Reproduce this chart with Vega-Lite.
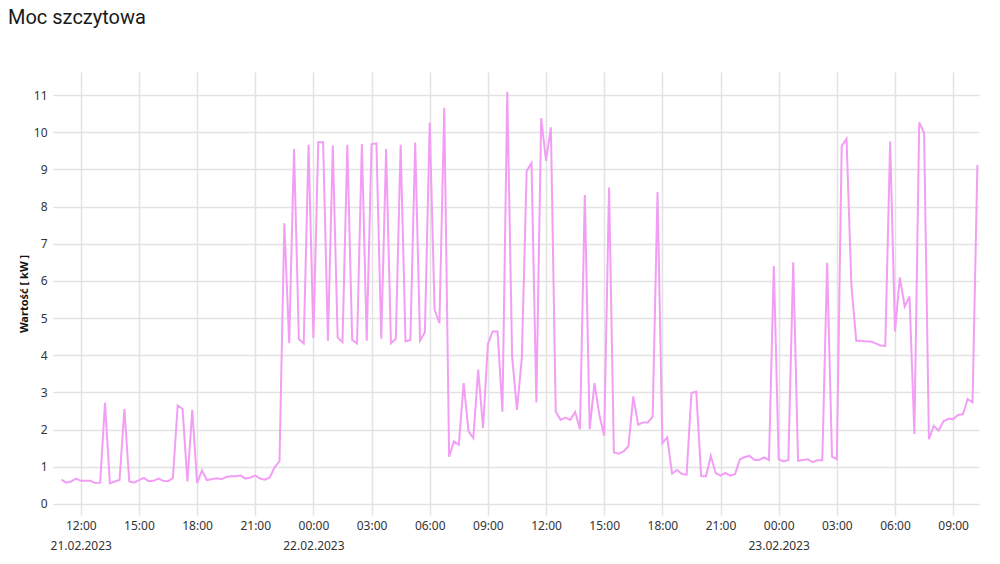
{
  "$schema": "https://vega.github.io/schema/vega-lite/v6.json",
  "autosize": {"type": "fit", "contains": "padding"},
  "width": 1000,
  "height": 564,
  "padding": {"left": 8, "top": 8, "right": 18, "bottom": 9},
  "background": "white",
  "title": {"text": "Moc szczytowa", "anchor": "start", "frame": "group", "dx": -45, "offset": 44, "fontSize": 20, "font": "Roboto", "fontWeight": "normal", "color": "#1a1a1a"},
  "config": {"view": {"stroke": null}},
  "data": {"values": [
    {"t":"2023-02-21T11:00","v":0.65},{"t":"2023-02-21T11:15","v":0.57},{"t":"2023-02-21T11:30","v":0.60},{"t":"2023-02-21T11:45","v":0.68},
    {"t":"2023-02-21T12:00","v":0.62},{"t":"2023-02-21T12:15","v":0.62},{"t":"2023-02-21T12:30","v":0.62},{"t":"2023-02-21T12:45","v":0.56},
    {"t":"2023-02-21T13:00","v":0.57},{"t":"2023-02-21T13:15","v":2.72},{"t":"2023-02-21T13:30","v":0.55},{"t":"2023-02-21T13:45","v":0.60},
    {"t":"2023-02-21T14:00","v":0.64},{"t":"2023-02-21T14:15","v":2.55},{"t":"2023-02-21T14:30","v":0.60},{"t":"2023-02-21T14:45","v":0.57},
    {"t":"2023-02-21T15:00","v":0.64},{"t":"2023-02-21T15:15","v":0.70},{"t":"2023-02-21T15:30","v":0.61},{"t":"2023-02-21T15:45","v":0.62},
    {"t":"2023-02-21T16:00","v":0.68},{"t":"2023-02-21T16:15","v":0.62},{"t":"2023-02-21T16:30","v":0.61},{"t":"2023-02-21T16:45","v":0.69},
    {"t":"2023-02-21T17:00","v":2.65},{"t":"2023-02-21T17:15","v":2.55},{"t":"2023-02-21T17:30","v":0.60},{"t":"2023-02-21T17:45","v":2.53},
    {"t":"2023-02-21T18:00","v":0.56},{"t":"2023-02-21T18:15","v":0.90},{"t":"2023-02-21T18:30","v":0.64},{"t":"2023-02-21T18:45","v":0.66},
    {"t":"2023-02-21T19:00","v":0.69},{"t":"2023-02-21T19:15","v":0.66},{"t":"2023-02-21T19:30","v":0.72},{"t":"2023-02-21T19:45","v":0.74},
    {"t":"2023-02-21T20:00","v":0.74},{"t":"2023-02-21T20:15","v":0.76},{"t":"2023-02-21T20:30","v":0.68},{"t":"2023-02-21T20:45","v":0.71},
    {"t":"2023-02-21T21:00","v":0.76},{"t":"2023-02-21T21:15","v":0.68},{"t":"2023-02-21T21:30","v":0.65},{"t":"2023-02-21T21:45","v":0.71},
    {"t":"2023-02-21T22:00","v":0.99},{"t":"2023-02-21T22:15","v":1.14},{"t":"2023-02-21T22:30","v":7.55},{"t":"2023-02-21T22:45","v":4.32},
    {"t":"2023-02-21T23:00","v":9.55},{"t":"2023-02-21T23:15","v":4.43},{"t":"2023-02-21T23:30","v":4.32},{"t":"2023-02-21T23:45","v":9.66},
    {"t":"2023-02-22T00:00","v":4.46},{"t":"2023-02-22T00:15","v":9.73},{"t":"2023-02-22T00:30","v":9.73},{"t":"2023-02-22T00:45","v":4.39},
    {"t":"2023-02-22T01:00","v":9.64},{"t":"2023-02-22T01:15","v":4.48},{"t":"2023-02-22T01:30","v":4.35},{"t":"2023-02-22T01:45","v":9.66},
    {"t":"2023-02-22T02:00","v":4.41},{"t":"2023-02-22T02:15","v":4.32},{"t":"2023-02-22T02:30","v":9.68},{"t":"2023-02-22T02:45","v":4.39},
    {"t":"2023-02-22T03:00","v":9.68},{"t":"2023-02-22T03:15","v":9.70},{"t":"2023-02-22T03:30","v":4.44},{"t":"2023-02-22T03:45","v":9.55},
    {"t":"2023-02-22T04:00","v":4.32},{"t":"2023-02-22T04:15","v":4.44},{"t":"2023-02-22T04:30","v":9.66},{"t":"2023-02-22T04:45","v":4.37},
    {"t":"2023-02-22T05:00","v":4.41},{"t":"2023-02-22T05:15","v":9.72},{"t":"2023-02-22T05:30","v":4.39},{"t":"2023-02-22T05:45","v":4.62},
    {"t":"2023-02-22T06:00","v":10.26},{"t":"2023-02-22T06:15","v":5.22},{"t":"2023-02-22T06:30","v":4.86},{"t":"2023-02-22T06:45","v":10.66},
    {"t":"2023-02-22T07:00","v":1.27},{"t":"2023-02-22T07:15","v":1.68},{"t":"2023-02-22T07:30","v":1.59},{"t":"2023-02-22T07:45","v":3.25},
    {"t":"2023-02-22T08:00","v":1.95},{"t":"2023-02-22T08:15","v":1.77},{"t":"2023-02-22T08:30","v":3.61},{"t":"2023-02-22T08:45","v":2.04},
    {"t":"2023-02-22T09:00","v":4.30},{"t":"2023-02-22T09:15","v":4.64},{"t":"2023-02-22T09:30","v":4.64},{"t":"2023-02-22T09:45","v":2.48},
    {"t":"2023-02-22T10:00","v":11.09},{"t":"2023-02-22T10:15","v":3.96},{"t":"2023-02-22T10:30","v":2.53},{"t":"2023-02-22T10:45","v":3.92},
    {"t":"2023-02-22T11:00","v":8.96},{"t":"2023-02-22T11:15","v":9.17},{"t":"2023-02-22T11:30","v":2.73},{"t":"2023-02-22T11:45","v":10.38},
    {"t":"2023-02-22T12:00","v":9.23},{"t":"2023-02-22T12:15","v":10.13},{"t":"2023-02-22T12:30","v":2.48},{"t":"2023-02-22T12:45","v":2.26},
    {"t":"2023-02-22T13:00","v":2.32},{"t":"2023-02-22T13:15","v":2.26},{"t":"2023-02-22T13:30","v":2.47},{"t":"2023-02-22T13:45","v":2.01},
    {"t":"2023-02-22T14:00","v":8.31},{"t":"2023-02-22T14:15","v":2.01},{"t":"2023-02-22T14:30","v":3.25},{"t":"2023-02-22T14:45","v":2.39},
    {"t":"2023-02-22T15:00","v":1.83},{"t":"2023-02-22T15:15","v":8.51},{"t":"2023-02-22T15:30","v":1.38},{"t":"2023-02-22T15:45","v":1.35},
    {"t":"2023-02-22T16:00","v":1.41},{"t":"2023-02-22T16:15","v":1.55},{"t":"2023-02-22T16:30","v":2.89},{"t":"2023-02-22T16:45","v":2.13},
    {"t":"2023-02-22T17:00","v":2.19},{"t":"2023-02-22T17:15","v":2.19},{"t":"2023-02-22T17:30","v":2.35},{"t":"2023-02-22T17:45","v":8.39},
    {"t":"2023-02-22T18:00","v":1.63},{"t":"2023-02-22T18:15","v":1.79},{"t":"2023-02-22T18:30","v":0.81},{"t":"2023-02-22T18:45","v":0.91},
    {"t":"2023-02-22T19:00","v":0.81},{"t":"2023-02-22T19:15","v":0.78},{"t":"2023-02-22T19:30","v":2.98},{"t":"2023-02-22T19:45","v":3.02},
    {"t":"2023-02-22T20:00","v":0.75},{"t":"2023-02-22T20:15","v":0.74},{"t":"2023-02-22T20:30","v":1.29},{"t":"2023-02-22T20:45","v":0.83},
    {"t":"2023-02-22T21:00","v":0.76},{"t":"2023-02-22T21:15","v":0.83},{"t":"2023-02-22T21:30","v":0.76},{"t":"2023-02-22T21:45","v":0.80},
    {"t":"2023-02-22T22:00","v":1.20},{"t":"2023-02-22T22:15","v":1.26},{"t":"2023-02-22T22:30","v":1.29},{"t":"2023-02-22T22:45","v":1.18},
    {"t":"2023-02-22T23:00","v":1.18},{"t":"2023-02-22T23:15","v":1.25},{"t":"2023-02-22T23:30","v":1.18},{"t":"2023-02-22T23:45","v":6.40},
    {"t":"2023-02-23T00:00","v":1.20},{"t":"2023-02-23T00:15","v":1.14},{"t":"2023-02-23T00:30","v":1.18},{"t":"2023-02-23T00:45","v":6.50},
    {"t":"2023-02-23T01:00","v":1.16},{"t":"2023-02-23T01:15","v":1.18},{"t":"2023-02-23T01:30","v":1.20},{"t":"2023-02-23T01:45","v":1.12},
    {"t":"2023-02-23T02:00","v":1.17},{"t":"2023-02-23T02:15","v":1.17},{"t":"2023-02-23T02:30","v":6.49},{"t":"2023-02-23T02:45","v":1.27},
    {"t":"2023-02-23T03:00","v":1.20},{"t":"2023-02-23T03:15","v":9.63},{"t":"2023-02-23T03:30","v":9.82},{"t":"2023-02-23T03:45","v":5.89},
    {"t":"2023-02-23T04:00","v":4.39},{"t":"2023-02-23T04:15","v":4.39},{"t":"2023-02-23T04:30","v":4.37},{"t":"2023-02-23T04:45","v":4.37},
    {"t":"2023-02-23T05:00","v":4.32},{"t":"2023-02-23T05:15","v":4.26},{"t":"2023-02-23T05:30","v":4.25},{"t":"2023-02-23T05:45","v":9.75},
    {"t":"2023-02-23T06:00","v":4.64},{"t":"2023-02-23T06:15","v":6.09},{"t":"2023-02-23T06:30","v":5.31},{"t":"2023-02-23T06:45","v":5.58},
    {"t":"2023-02-23T07:00","v":1.88},{"t":"2023-02-23T07:15","v":10.26},{"t":"2023-02-23T07:30","v":9.99},{"t":"2023-02-23T07:45","v":1.74},
    {"t":"2023-02-23T08:00","v":2.10},{"t":"2023-02-23T08:15","v":1.97},{"t":"2023-02-23T08:30","v":2.22},{"t":"2023-02-23T08:45","v":2.29},
    {"t":"2023-02-23T09:00","v":2.28},{"t":"2023-02-23T09:15","v":2.39},{"t":"2023-02-23T09:30","v":2.41},{"t":"2023-02-23T09:45","v":2.82},
    {"t":"2023-02-23T10:00","v":2.73},{"t":"2023-02-23T10:15","v":9.12}
  ]},
  "mark": {"type": "line", "color": "#f29ef4", "strokeWidth": 2},
  "encoding": {
    "x": {
      "field": "t", "type": "temporal",
      "scale": {"domain": [{"year": 2023, "month": 2, "date": 21, "hours": 10, "minutes": 34}, {"year": 2023, "month": 2, "date": 23, "hours": 10, "minutes": 20}], "nice": false},
      "axis": {
        "title": null, "domain": false, "ticks": false,
        "values": [
          {"year": 2023, "month": 2, "date": 21, "hours": 12}, {"year": 2023, "month": 2, "date": 21, "hours": 15},
          {"year": 2023, "month": 2, "date": 21, "hours": 18}, {"year": 2023, "month": 2, "date": 21, "hours": 21},
          {"year": 2023, "month": 2, "date": 22, "hours": 0}, {"year": 2023, "month": 2, "date": 22, "hours": 3},
          {"year": 2023, "month": 2, "date": 22, "hours": 6}, {"year": 2023, "month": 2, "date": 22, "hours": 9},
          {"year": 2023, "month": 2, "date": 22, "hours": 12}, {"year": 2023, "month": 2, "date": 22, "hours": 15},
          {"year": 2023, "month": 2, "date": 22, "hours": 18}, {"year": 2023, "month": 2, "date": 22, "hours": 21},
          {"year": 2023, "month": 2, "date": 23, "hours": 0}, {"year": 2023, "month": 2, "date": 23, "hours": 3},
          {"year": 2023, "month": 2, "date": 23, "hours": 6}, {"year": 2023, "month": 2, "date": 23, "hours": 9}
        ],
        "grid": true, "gridColor": "#e3e3e3", "gridWidth": 1.5,
        "labelFont": "Noto Sans", "labelFontSize": 12, "labelColor": "#333333",
        "labelPadding": 5, "labelLineHeight": 20,
        "minExtent": 40, "maxExtent": 40,
        "labelExpr": "(hours(datum.value) == 0 || (date(datum.value) == 21 && hours(datum.value) == 12)) ? [timeFormat(datum.value, '%H:%M'), timeFormat(datum.value, '%d.%m.%Y')] : timeFormat(datum.value, '%H:%M')"
      }
    },
    "y": {
      "field": "v", "type": "quantitative",
      "scale": {"domain": [-0.3, 11.62], "nice": false, "zero": false},
      "axis": {
        "title": "Wartość [ kW ]", "titleFont": "Noto Sans", "titleFontSize": 11, "titleFontWeight": "bold", "titleColor": "#111111", "titlePadding": 4,
        "values": [0, 1, 2, 3, 4, 5, 6, 7, 8, 9, 10, 11],
        "domain": false, "ticks": false,
        "grid": true, "gridColor": "#e3e3e3", "gridWidth": 1.5,
        "labelFont": "Noto Sans", "labelFontSize": 12, "labelColor": "#333333", "labelPadding": 6,
        "minExtent": 20, "maxExtent": 20
      }
    }
  }
}
